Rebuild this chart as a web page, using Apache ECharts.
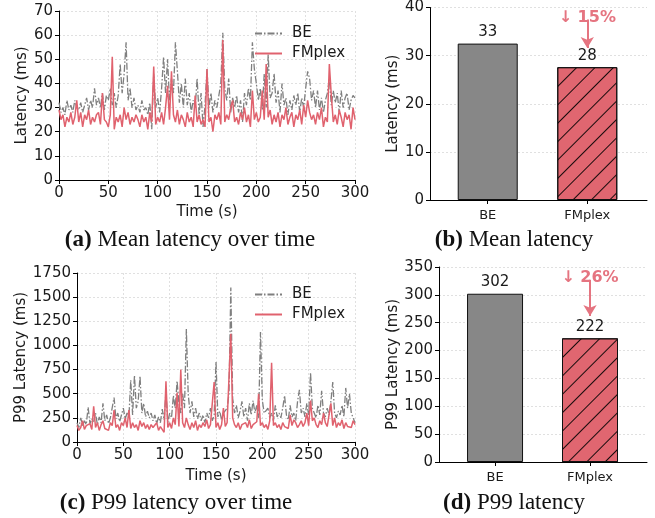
<!DOCTYPE html>
<html>
<head>
<meta charset="utf-8">
<script src="https://cdn.jsdelivr.net/npm/echarts@6/dist/echarts.min.js"></script>
<style>
html,body{margin:0;padding:0;background:#fff;}
#chart{width:655px;height:518px;}
</style>
</head>
<body>
<div id="chart"></div>
<script>
// ---- Data ----
const TIME_STEP = 2; // seconds between samples
const seriesNames = ['BE', 'FMplex'];

// (a) mean latency over time (ms), one sample every 2 s from 0 to 300 s
const meanBE = [
  32,28,30,27,33,29,31,28,33,30,
  29,32,28,31,34,29,33,30,38,31,
  34,30,36,29,35,33,38,31,36,30,
  35,48,36,44,57,33,38,30,34,29,
  31,28,33,29,30,27,32,21,44,30,
  34,28,38,51,36,50,33,42,36,57,
  45,32,40,30,42,31,36,28,33,30,
  42,27,36,22,31,46,30,36,28,33,
  30,35,40,61,38,33,42,28,34,30,
  35,28,33,24,36,31,38,33,57,46,
  40,33,38,29,44,30,52,34,36,44,
  32,37,28,40,31,34,27,33,29,35,
  31,36,28,34,30,38,45,42,33,37,
  30,37,29,34,28,33,36,42,31,37,
  32,36,28,37,30,34,36,29,33,35,
  34
];
const meanFM = [
  29,25,27,22,26,24,28,23,26,33,
  24,28,22,27,25,29,23,26,24,27,
  28,23,36,25,24,22,27,51,21,26,
  24,27,22,30,25,28,23,26,24,27,
  25,22,27,24,26,21,28,24,47,23,
  26,24,28,23,30,39,25,45,27,24,
  29,23,27,25,22,28,24,26,22,35,
  24,27,23,25,22,46,24,26,20,27,
  25,28,23,58,24,27,25,30,33,24,
  26,23,28,25,30,24,27,22,37,25,
  28,24,26,37,25,48,26,29,23,27,
  24,28,22,27,25,30,23,26,28,22,
  27,25,29,23,31,26,33,28,25,27,
  23,28,25,30,22,26,24,48,35,24,
  27,23,29,26,22,28,25,27,21,30,
  25
];

// (c) P99 latency over time (ms)
const p99BE = [
  200,150,250,170,220,180,360,190,240,210,
  300,180,260,200,400,220,280,190,250,230,
  460,240,300,210,280,350,240,300,260,640,
  280,690,350,420,680,300,400,260,320,250,
  300,220,280,190,260,200,340,230,520,200,
  300,250,480,350,630,400,300,500,350,1170,
  500,300,420,260,350,240,300,220,280,200,
  300,250,350,220,280,830,260,320,230,300,
  280,350,500,1600,450,300,380,250,320,420,
  260,350,220,400,280,430,300,380,250,1140,
  430,300,280,350,250,300,220,380,260,300,
  250,350,480,280,230,380,260,300,220,420,
  540,300,350,260,400,280,720,350,300,250,
  380,280,530,300,260,350,280,420,620,300,
  250,320,280,380,260,560,350,500,300,250,
  200
];
const p99FM = [
  170,120,150,220,130,170,150,190,130,370,
  150,200,120,180,220,140,160,120,200,170,
  330,150,180,120,200,170,250,150,330,140,
  200,150,180,120,220,160,200,140,180,130,
  180,150,130,200,120,160,180,100,630,150,
  200,140,250,180,510,160,750,200,150,250,
  180,130,200,150,220,120,180,150,200,160,
  230,140,180,160,620,150,200,130,180,350,
  160,200,220,1120,250,180,150,200,130,180,
  160,200,150,230,140,180,160,210,500,170,
  200,150,180,130,220,820,170,200,150,180,
  130,200,160,180,140,280,170,230,200,150,
  180,220,160,200,300,170,430,220,250,180,
  150,220,180,300,200,160,180,400,170,250,
  150,200,170,230,140,200,160,180,150,220,
  180
];

// (b)/(d) bar values
const barCategories = ['BE', 'FMplex'];
const meanBars = [32.5, 27.6];
const p99Bars = [302, 222];
const meanReduction = '↓ 15%';
const p99Reduction = '↓ 26%';
const meanArrow = [37.5, 31.6];
const p99Arrow = [327, 262];

const captions = ['(a)', ' Mean latency over time', '(b)', ' Mean latency',
                  '(c)', ' P99 latency over time', '(d)', ' P99 latency'];

// ---- Styles ----
const FONT = 'DejaVu Sans';
const TXT = '#1a1a1a';
const GRAY_LINE = '#7f7f7f';
const RED_LINE = '#e0626e';
const BAR_GRAY = '#878787';
const BAR_RED = '#e06670';
const ANNO = '#e57480';

function pairs(arr){ return arr.map((v,i)=>[i*TIME_STEP, v]); }

const tickFont = {fontFamily: FONT, fontSize: 15, color: TXT};
const nameFont = {fontFamily: FONT, fontSize: 15, color: TXT};
const axisLine = {show:true, onZero:false, lineStyle:{color:'#000', width:1}};
const gridLine = {show:true, lineStyle:{color:'#d9d9d9', type:[2,2], width:0.8}};

function timeXAxis(gridIndex, gap){
  return {
    type:'value', gridIndex, min:0, max:300, interval:50,
    name:'Time (s)', nameLocation:'middle', nameGap:gap, nameTextStyle:nameFont,
    axisLine, axisTick:{show:true, length:4, lineStyle:{color:'#000'}},
    axisLabel:Object.assign({margin:6, formatter:v=>String(v)}, tickFont),
    splitLine:gridLine
  };
}
function barXAxis(gridIndex, min, max){
  return {
    type:'value', gridIndex, min, max,
    axisLine, axisTick:{show:true, length:4, customValues:[0,1], lineStyle:{color:'#000'}},
    axisLabel:{customValues:[0,1], formatter:v=>barCategories[Math.round(v)]||'', fontFamily:FONT, fontSize:13, color:TXT, margin:9},
    splitLine:{show:false}
  };
}
function yAxis(gridIndex, max, interval, name, gap){
  return {
    type:'value', gridIndex, min:0, max, interval,
    name, nameLocation:'middle', nameGap:gap, nameTextStyle:nameFont,
    axisLine, axisTick:{show:true, length:4, lineStyle:{color:'#000'}},
    axisLabel:Object.assign({margin:6, formatter:v=>String(v)}, tickFont),
    splitLine:gridLine
  };
}

const hatch = {
  symbol:'rect', symbolSize:1, color:'rgba(0,0,0,0.9)',
  dashArrayX:[1,0], dashArrayY:[0.9,11.5], rotation:-Math.PI/4
};

function barSeries(idx, values, arrow, text, bw){
  return {
    type:'bar', xAxisIndex:idx, yAxisIndex:idx, barWidth:bw,
    data: values.map((v,i)=>({
      value:[i, v],
      itemStyle: i===0 ? {color:BAR_GRAY, borderColor:'#111', borderWidth:1}
                       : {color:BAR_RED, borderColor:'#111', borderWidth:1, decal:hatch}
    })),
    label:{show:true, position:'top', distance:4, formatter:p=>Math.round(p.value[1]),
           fontFamily:FONT, fontSize:15, color:TXT},
    markLine:{
      silent:true, animation:false, symbol:['none','arrow'], symbolSize:[10,11],
      lineStyle:{color:ANNO, width:2, type:'solid'},
      label:{show:true, position:'start', formatter:text, fontFamily:FONT, fontSize:16,
             fontWeight:'bold', color:ANNO, distance:-6},
      data:[[{coord:[1, arrow[0]]},{coord:[1, arrow[1]]}]]
    },
    animation:false
  };
}

function lineSeries(idx, name, values, red){
  return {
    type:'line', name, xAxisIndex:idx, yAxisIndex:idx, data:pairs(values),
    symbol:'none', showSymbol:false, animation:false,
    lineStyle: red ? {color:RED_LINE, width:1.5} : {color:GRAY_LINE, width:1.3, type:[7,2,1.5,2]},
    itemStyle:{color: red ? RED_LINE : GRAY_LINE},
    z: red ? 3 : 2
  };
}

function legend(top){
  return {
    orient:'vertical', left:249, top, itemWidth:27, itemHeight:14, itemGap:5,
    data:seriesNames, selectedMode:false,
    itemStyle:{opacity:0},
    textStyle:{fontFamily:FONT, fontSize:15, color:TXT, padding:[0,0,0,5]}
  };
}

function caption(cx, cy, bold, rest){
  return {
    type:'text', x:cx, y:cy,
    style:{
      text:'{b|'+bold+'}{r|'+rest+'}',
      rich:{
        b:{fontFamily:'Liberation Serif', fontSize:23, fontWeight:'bold', fill:'#111'},
        r:{fontFamily:'Liberation Serif', fontSize:23, fill:'#111'}
      },
      align:'center', verticalAlign:'middle'
    }
  };
}

const option = {
  backgroundColor:'#fff',
  animation:false,
  grid:[
    {left:59, top:11, width:296, height:169},
    {left:430, top:5, width:217, height:195},
    {left:77, top:273, width:278, height:169},
    {left:439, top:267, width:208, height:195}
  ],
  xAxis:[
    timeXAxis(0, 25),
    barXAxis(1, -0.58, 1.6),
    timeXAxis(2, 27),
    barXAxis(3, -0.59, 1.6)
  ],
  yAxis:[
    yAxis(0, 70, 10, 'Latency (ms)', 28),
    yAxis(1, 40, 10, 'Latency (ms)', 29),
    yAxis(2, 1750, 250, 'P99 Latency (ms)', 46),
    yAxis(3, 350, 50, 'P99 Latency (ms)', 38)
  ],
  legend:[ legend(21), legend(282) ],
  series:[
    lineSeries(0, seriesNames[0], meanBE, false),
    lineSeries(0, seriesNames[1], meanFM, true),
    barSeries(1, meanBars, meanArrow, meanReduction, 60),
    lineSeries(2, seriesNames[0], p99BE, false),
    lineSeries(2, seriesNames[1], p99FM, true),
    barSeries(3, p99Bars, p99Arrow, p99Reduction, 56)
  ],
  graphic:[
    caption(190, 240, captions[0], captions[1]),
    caption(514, 240, captions[2], captions[3]),
    caption(176, 503, captions[4], captions[5]),
    caption(514, 503, captions[6], captions[7])
  ]
};

const chart = echarts.init(document.getElementById('chart'), null, {renderer:'canvas'});
chart.setOption(option);
</script>
</body>
</html>
